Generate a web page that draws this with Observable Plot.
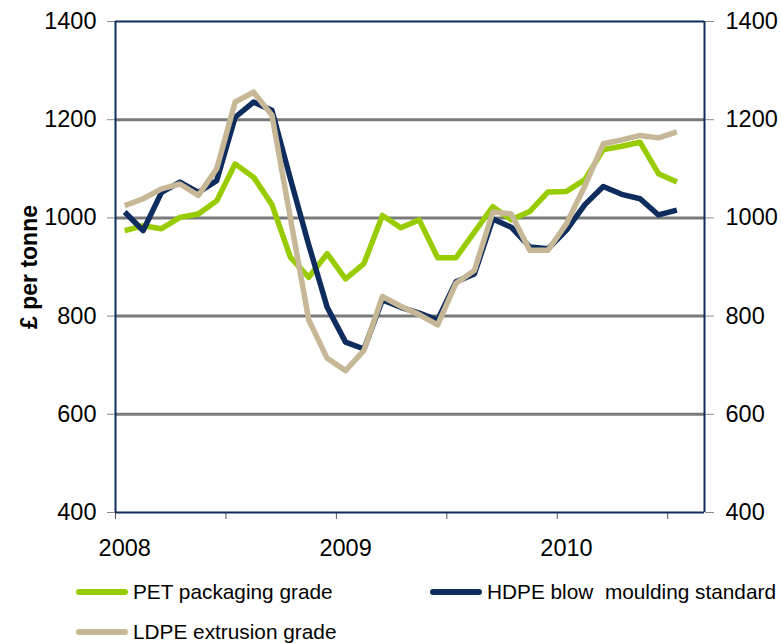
<!DOCTYPE html>
<html><head><meta charset="utf-8">
<script src="https://cdn.jsdelivr.net/npm/d3@7"></script>
<script src="https://cdn.jsdelivr.net/npm/@observablehq/plot@0.6"></script>
<style>
body{margin:0;background:#fff;font-family:"Liberation Sans",Arial,sans-serif;}
#wrap{position:relative;width:781px;height:643px;background:#fff;}
#legend{position:relative;height:78px;}
.leg{position:absolute;display:flex;align-items:center;font-size:20.8px;color:#000;height:24px;white-space:pre;}
.leg .sw{display:inline-block;width:52px;height:6px;border-radius:3px;margin-right:5px;}
</style></head><body>
<div id="wrap"><div id="chart"></div><div id="legend"></div></div>
<script>
const months = ["2008-01","2008-02","2008-03","2008-04","2008-05","2008-06","2008-07","2008-08","2008-09","2008-10","2008-11","2008-12",
"2009-01","2009-02","2009-03","2009-04","2009-05","2009-06","2009-07","2009-08","2009-09","2009-10","2009-11","2009-12",
"2010-01","2010-02","2010-03","2010-04","2010-05","2010-06","2010-07"];
const pet  = [974,984,978,1001,1008,1035,1110,1083,1027,920,879,927, 876,907,1005,980,996,919,919,971,1023,996,1013,1053, 1054,1078,1139,1146,1154,1090,1073];
const hdpe = [1012,974,1052,1073,1052,1076,1205,1236,1219,1080,945,818, 747,733,833,818,806,792,870,886,998,981,941,937, 975,1027,1064,1048,1039,1006,1016];
const ldpe = [1025,1039,1059,1069,1046,1100,1236,1256,1209,1000,792,714, 689,730,840,820,803,782,867,893,1012,1008,934,934, 988,1065,1151,1159,1168,1163,1175];
const seriesNames = ["PET packaging grade","HDPE blow  moulding standard","LDPE extrusion grade"];
const seriesColors = ["#99cc00","#0e2c5e","#c6b897"];
const yTicks = [400,600,800,1000,1200,1400];
const gridValues = [600,800,1000,1200];
const yearLabels = ["2008","2009","2010"];
const yAxisTitle = "£ per tonne";

const navy = "#0e2c5e";
const monthIndex = m => { const [y,mo] = m.split("-").map(Number); return (y-2008)*12 + (mo-1); };
const seriesValues = [pet, hdpe, ldpe];
const data = [];
seriesNames.forEach((s,k) => months.forEach((m,i) => data.push({series:s, t: monthIndex(m)+0.5, v: seriesValues[k][i]})));
const halfYearTicks = months.filter(m => m.endsWith("-01") || m.endsWith("-07")).map(monthIndex);
const yearPos = yearLabels.map(y => monthIndex(y+"-01")+0.5);

const font = '"Liberation Sans", Arial, sans-serif';
const fmt = d => String(d);
const chart = Plot.plot({
  width:781, height:565, marginTop:21, marginBottom:53, marginLeft:115, marginRight:77,
  x:{domain:[0, months.length+1]},
  y:{domain:[400,1400]},
  color:{domain:seriesNames, range:seriesColors},
  style:{fontFamily:font, background:"white", overflow:"visible", color:"#000"},
  marks:[
    Plot.ruleY(gridValues,{stroke:"#7a7a7a", strokeWidth:3}),
    Plot.axisY(yTicks,{anchor:"left", tickSize:8, tickPadding:11, fontSize:23.5, tickFormat:fmt, stroke:"#8a8a8a", label:null}),
    Plot.axisY(yTicks,{anchor:"right", tickSize:9, tickPadding:12, fontSize:23.5, tickFormat:fmt, stroke:"#8a8a8a", label:null}),
    Plot.axisX(halfYearTicks,{anchor:"bottom", tickSize:7, tickFormat:()=> "", stroke:"#555", label:null}),
    Plot.axisX(yearPos,{anchor:"bottom", tickSize:0, tickPadding:27, fontSize:23.5, tickFormat:(d,i)=>yearLabels[i], label:null}),
    Plot.line(data,{x:"t", y:"v", z:"series", stroke:"series", strokeWidth:5.5, strokeLinejoin:"round", strokeLinecap:"butt"}),
    Plot.ruleX([0, months.length+1],{stroke:navy, strokeWidth:2}),
    Plot.ruleY([400,1400],{stroke:navy, strokeWidth:2}),
    Plot.text([yAxisTitle],{frameAnchor:"left", textAnchor:"middle", dx:-86, rotate:-90, fontWeight:"bold", fontSize:23, fill:"#000"})
  ]
});
document.getElementById("chart").appendChild(chart);

const legendPos = [{left:76, top:15},{left:430, top:15},{left:76, top:55}];
const legend = document.getElementById("legend");
seriesNames.forEach((s,k) => {
  const d = document.createElement("div");
  d.className = "leg";
  d.style.left = legendPos[k].left + "px";
  d.style.top = legendPos[k].top + "px";
  const sw = document.createElement("span");
  sw.className = "sw"; sw.style.background = seriesColors[k];
  d.appendChild(sw);
  d.appendChild(document.createTextNode(s));
  legend.appendChild(d);
});
</script>
</body></html>
